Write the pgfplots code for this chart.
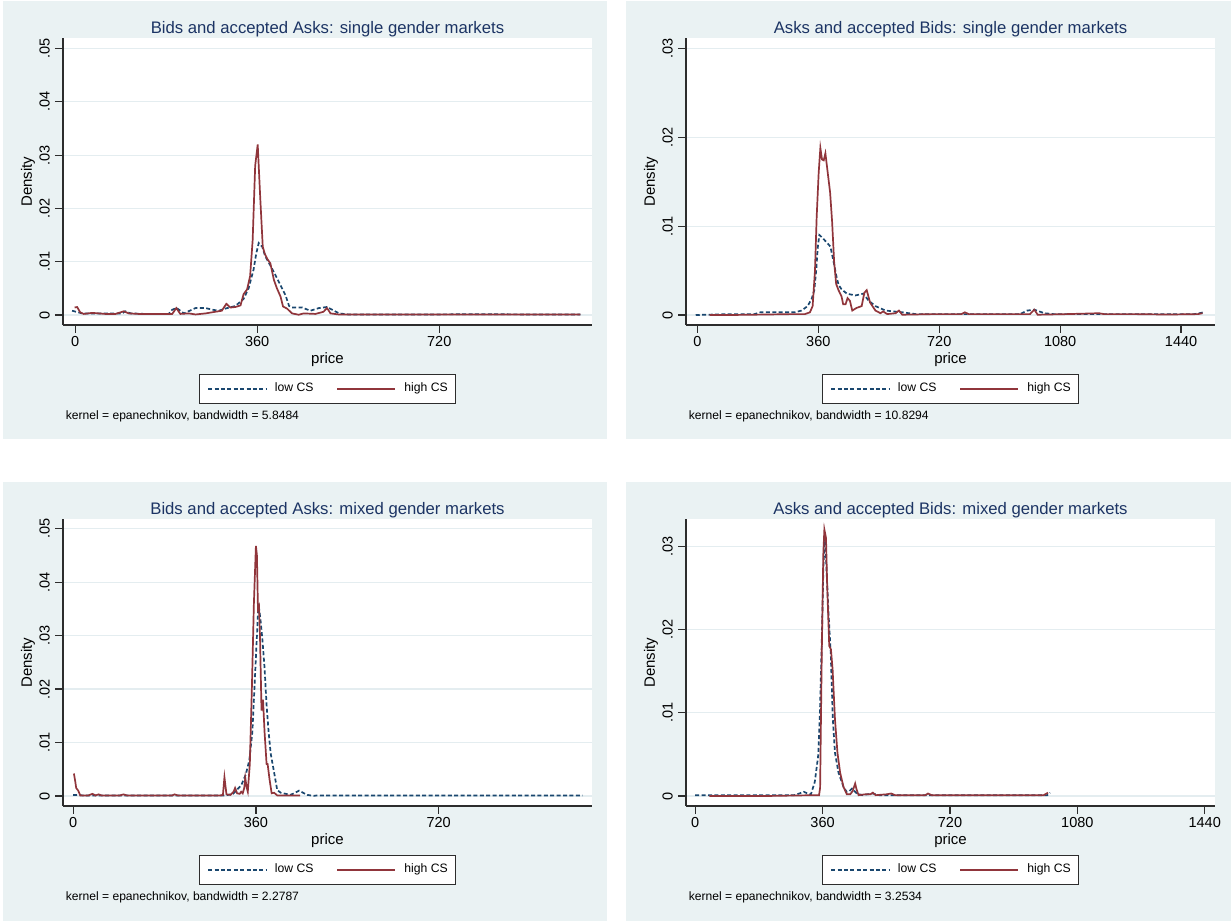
\documentclass[border=0pt]{standalone}
\usepackage{fontspec}
\setmainfont{Liberation Sans}
\usepackage{pgfplots}
\pgfplotsset{compat=1.18}
\definecolor{bgc}{RGB}{234,242,243}
\definecolor{gridc}{RGB}{228,237,240}
\definecolor{navyc}{RGB}{26,71,111}
\definecolor{maroonc}{RGB}{144,53,59}
\definecolor{titlec}{RGB}{28,52,100}
\definecolor{axc}{RGB}{45,45,45}
\pgfplotsset{
 panel/.style={
  scale only axis, width=264.5pt, height=143.3pt, anchor=south west,
  axis background/.style={fill=white},
  axis x line*=bottom, axis y line*=left,
  axis line style={axc, line width=0.7pt},
  every tick/.style={axc, line width=0.6pt},
  tick align=outside, major tick length=4pt,
  ymajorgrids, grid style={gridc, line width=0.6pt},
  scaled ticks=false,
  /pgf/number format/assume math mode=true,
  ticklabel style={font=\fontsize{7.25}{8}\selectfont, inner sep=0pt},
  xticklabel style={anchor=north},
  yticklabel style={rotate=90, anchor=south},
  xticklabel shift=1.4pt, yticklabel shift=2.4pt,
  xlabel={price}, ylabel={Density},
  xlabel style={font=\fontsize{7.5}{9}\selectfont, at={(axis description cs:0.5,0)}, anchor=base, yshift=-19.5pt, inner sep=0pt},
  ylabel style={font=\fontsize{7.5}{9}\selectfont, at={(axis description cs:-0.066,0.5)}, anchor=center, inner sep=0pt},
  title style={font=\fontsize{8.35}{10}\selectfont, color=titlec, at={(axis description cs:0.5,1)}, anchor=base, yshift=-3.5pt, inner sep=0pt},
  legend style={at={(0.5,-0.1707)}, anchor=north, legend columns=2, draw=axc, line width=0.6pt, fill=white,
    font=\fontsize{6.1}{7}\selectfont, inner xsep=4pt, inner ysep=4.2pt,
    nodes={inner sep=0pt, text depth=0.15em}, cells={anchor=west},
    /tikz/every odd column/.append style={column sep=4pt},
    /tikz/every even column/.append style={column sep=11.5pt}},
  legend image code/.code={\draw[#1] (0pt,0pt) -- (29pt,0pt);},
 },
 left5/.style={ytick={0,0.01,0.02,0.03,0.04,0.05}, yticklabels={0,.01,.02,.03,.04,.05}, xtick={0,360,720}, xticklabels={0,360,720}},
 right3/.style={ytick={0,0.01,0.02,0.03}, yticklabels={0,.01,.02,.03}, xtick={0,360,720,1080,1440}, xticklabels={0,360,720,1080,1440}},
 low/.style={navyc, line width=0.85pt, dash pattern=on 2pt off 1.2pt},
 high/.style={maroonc, line width=0.85pt},
}
\begin{document}
\begin{tikzpicture}
\useasboundingbox (0pt,0pt) rectangle (615.5pt,460.5pt);
\fill[bgc] (1.5pt,241pt) rectangle (303.5pt,460pt);
\fill[bgc] (313pt,241pt) rectangle (615.5pt,460pt);
\fill[bgc] (1.5pt,0pt) rectangle (303.5pt,219.5pt);
\fill[bgc] (313pt,0pt) rectangle (615.5pt,219.5pt);

% top left
\begin{axis}[panel, left5, at={(31.5pt,298pt)},
  xmin=-24, xmax=1022, ymin=-0.001875, ymax=0.0519,
  title={Bids and accepted Asks: single gender markets}]
\addplot[low] coordinates {(-6,0.0008) (14,0.0003) (60,0.0003) (93,0.0003) (99,0.0007) (110,0.0003) (139,0.0002) (185,0.0002) (192,0.001) (201,0.0013) (215,0.0003) (238,0.0013) (258,0.0013) (271,0.001) (284,0.0008) (297,0.0012) (317,0.0017) (333,0.003) (343,0.005) (353,0.0086) (358,0.0115) (363,0.0135) (370,0.0128) (376,0.011) (386,0.0093) (396,0.0075) (406,0.0056) (416,0.0037) (423,0.0017) (429,0.0014) (449,0.0014) (465,0.0008) (482,0.0013) (498,0.0015) (512,0.0008) (522,0.0003) (540,0.0001) (700,0.0001) (800,0.00015) (900,0.0001) (999,0.0001)};
\addplot[high] coordinates {(-1,0.0014) (4,0.0015) (10,0.0005) (17,0.0002) (34,0.0004) (60,0.0002) (80,0.0002) (96,0.0007) (106,0.0003) (126,0.0002) (172,0.0002) (192,0.0002) (200,0.0013) (208,0.0002) (225,0.0003) (238,0.0001) (258,0.0003) (277,0.0006) (290,0.0008) (299,0.0021) (307,0.0014) (317,0.0015) (327,0.0018) (333,0.0039) (340,0.0048) (346,0.0073) (351,0.014) (356,0.028) (361,0.032) (366,0.022) (371,0.0128) (375,0.0115) (380,0.0105) (386,0.0097) (393,0.0066) (399,0.005) (406,0.0035) (411,0.0016) (419,0.0012) (429,0.0003) (442,0.00005) (452,0.0003) (475,0.0002) (491,0.0006) (498,0.0013) (505,0.0003) (521,0.0001) (600,0.0001) (800,0.0001) (999,0.0001)};
\legend{low CS, high CS}
\end{axis}

% top right
\begin{axis}[panel, right3, at={(343pt,298pt)},
  xmin=-34, xmax=1541, ymin=-0.001125, ymax=0.03113,
  title={Asks and accepted Bids: single gender markets}]
\addplot[low] coordinates {(-5,0) (100,0.0001) (170,0.0001) (187,0.0003) (240,0.0003) (289,0.0003) (310,0.0005) (328,0.001) (340,0.0018) (348,0.0028) (354,0.0052) (358,0.0075) (363,0.009) (372,0.0087) (384,0.0082) (396,0.0077) (402,0.0066) (408,0.0055) (413,0.0045) (420,0.0034) (429,0.0029) (445,0.0024) (470,0.0022) (494,0.0024) (510,0.0016) (530,0.001) (560,0.0005) (610,0.0003) (650,0.0001) (800,0.0001) (960,0.0001) (982,0.0005) (1003,0.0006) (1033,0.0002) (1060,0.0001) (1400,0.0001) (1480,0.0001) (1508,0.0003)};
\addplot[high] coordinates {(36,0) (100,0) (200,0.00005) (280,0.0001) (320,0.0001) (335,0.0003) (343,0.001) (350,0.005) (355,0.011) (361,0.016) (366,0.0188) (371,0.0175) (376,0.0174) (381,0.0182) (388,0.016) (395,0.0138) (401,0.0105) (407,0.006) (413,0.0035) (420,0.0028) (429,0.0021) (434,0.0012) (441,0.0012) (447,0.0019) (454,0.0016) (461,0.0005) (474,0.0008) (489,0.001) (497,0.0025) (504,0.0028) (514,0.0014) (530,0.0005) (545,0.0002) (553,0.0004) (565,0.0001) (590,0.0002) (600,0.0005) (610,0.00003) (700,0.0001) (786,0.0001) (796,0.0003) (808,0.0001) (900,0.0001) (990,0.0001) (1003,0.0006) (1013,0.00003) (1100,0.0001) (1196,0.0002) (1210,0.0001) (1300,0.0001) (1400,0.00005) (1490,0.0001) (1504,0.0002)};
\legend{low CS, high CS}
\end{axis}

% bottom left
\begin{axis}[panel, left5, at={(31.5pt,57.5pt)},
  xmin=-20, xmax=1022, ymin=-0.001875, ymax=0.05175,
  title={Bids and accepted Asks: mixed gender markets}]
\addplot[low] coordinates {(0,0.0002) (20,0.0001) (100,0.0001) (200,0.0001) (300,0.0001) (315,0.0004) (323,0.0012) (331,0.002) (340,0.004) (347,0.0067) (353,0.012) (358,0.022) (362,0.03) (365,0.036) (369,0.033) (373,0.029) (377,0.024) (381,0.017) (385,0.012) (389,0.008) (396,0.0043) (402,0.0011) (409,0.0006) (428,0.0002) (437,0.0006) (445,0.001) (453,0.0006) (461,0.0002) (474,0.00002) (480,0.0001) (600,0.0001) (800,0.0001) (1003,0.0001)};
\addplot[high] coordinates {(1.5,0.0042) (4,0.0028) (6,0.0015) (10,0.001) (14,0.0001) (30,0.0001) (38,0.0004) (44,0.0001) (50,0.0003) (56,0.0001) (92,0.0001) (99,0.0003) (106,0.0001) (195,0.0001) (200,0.0003) (206,0.0001) (290,0.0001) (295,0.0002) (298,0.0035) (302,0.0003) (310,0.0002) (316,0.0008) (319,0.0015) (323,0.0005) (328,0.0004) (331,0.0008) (334,0.0005) (337,0.0015) (339,0.0034) (342,0.0015) (344,0.0008) (348,0.006) (352,0.02) (356,0.036) (360,0.0468) (362,0.045) (364,0.035) (366,0.0355) (368,0.03) (371,0.016) (374,0.018) (377,0.012) (381,0.006) (383,0.006) (387,0.003) (391,0.0005) (396,0.0006) (402,0.0001) (447,0.0001)};
\legend{low CS, high CS}
\end{axis}

% bottom right
\begin{axis}[panel, right3, at={(343pt,57.5pt)},
  xmin=-26, xmax=1469, ymin=-0.0012, ymax=0.03321,
  title={Asks and accepted Bids: mixed gender markets}]
\addplot[low] coordinates {(0,0.0001) (100,0.0001) (200,0.0001) (280,0.0001) (294,0.0003) (307,0.0005) (318,0.0003) (327,0.0002) (338,0.0017) (348,0.005) (353,0.0108) (358,0.019) (362,0.027) (366,0.031) (369,0.029) (373,0.0255) (376,0.0225) (383,0.0172) (389,0.0092) (395,0.0052) (405,0.0028) (419,0.0011) (428,0.0005) (436,0.0006) (443,0.0009) (450,0.0006) (457,0.0003) (472,0.0001) (502,0.0003) (520,0.0001) (600,0.0001) (700,0.0001) (900,0.0001) (995,0.0001) (1003,0.0004)};
\addplot[high] coordinates {(40,0) (200,0) (340,0.0001) (350,0.0001) (353,0.001) (357.7,0.0172) (362,0.029) (365,0.032) (369.6,0.031) (373,0.0252) (378.8,0.018) (383.6,0.0176) (388.3,0.0152) (395,0.0092) (402,0.0052) (409.6,0.0028) (419,0.0011) (428.5,0.0002) (438,0.0002) (445,0.0006) (452,0.0015) (456,0.0008) (461.6,0.0001) (480,0.0002) (495,0.0002) (502,0.0004) (510,0.0001) (540,0.0002) (554,0.0003) (565,0.0001) (650,0.0001) (658,0.0003) (668,0.0001) (800,0.0001) (985,0.0001) (997,0.0004)};
\legend{low CS, high CS}
\end{axis}

\node[anchor=west, inner sep=0pt, font=\fontsize{6.05}{7}\selectfont] at (32.7pt,252.5pt) {kernel = epanechnikov, bandwidth = 5.8484};
\node[anchor=west, inner sep=0pt, font=\fontsize{6.05}{7}\selectfont] at (344.2pt,252.5pt) {kernel = epanechnikov, bandwidth = 10.8294};
\node[anchor=west, inner sep=0pt, font=\fontsize{6.05}{7}\selectfont] at (32.7pt,11.65pt) {kernel = epanechnikov, bandwidth = 2.2787};
\node[anchor=west, inner sep=0pt, font=\fontsize{6.05}{7}\selectfont] at (344.2pt,11.65pt) {kernel = epanechnikov, bandwidth = 3.2534};
\end{tikzpicture}
\end{document}
